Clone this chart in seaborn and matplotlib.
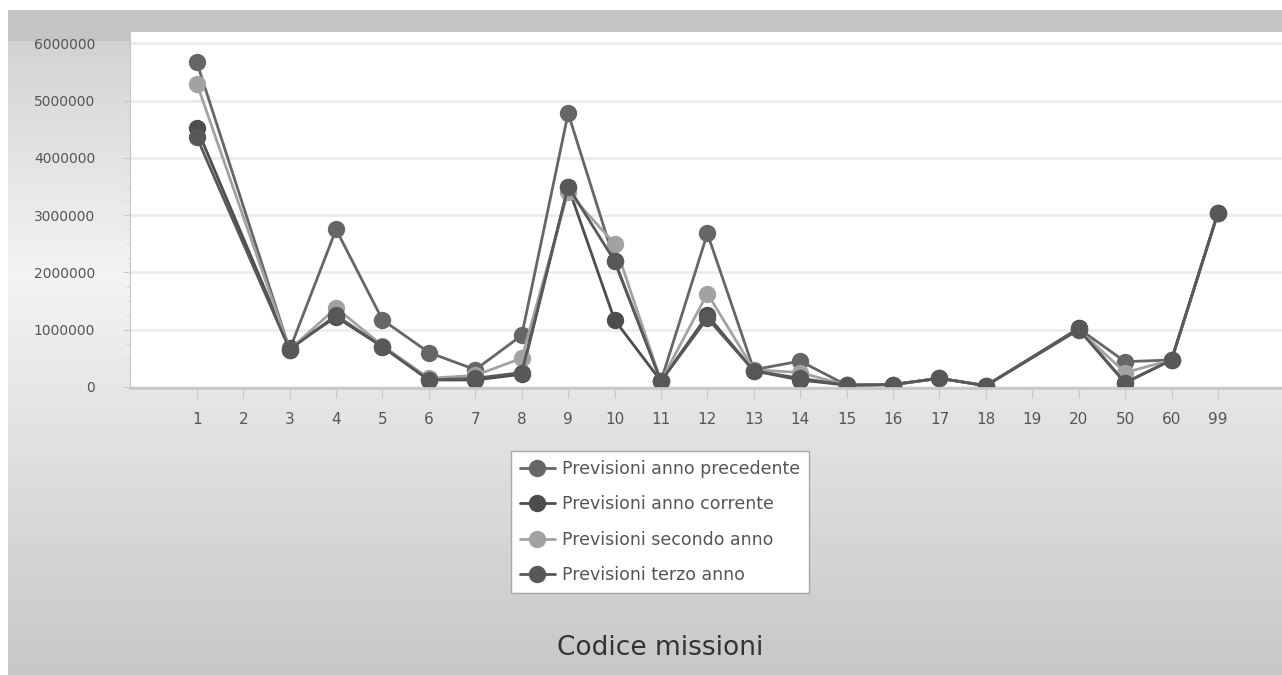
import numpy as np
import pandas as pd
import seaborn as sns
import matplotlib.pyplot as plt
from matplotlib.ticker import MultipleLocator, FuncFormatter

nan = np.nan

# Codici missione (asse x)
categorie = ['1', '2', '3', '4', '5', '6', '7', '8', '9', '10', '11', '12',
             '13', '14', '15', '16', '17', '18', '19', '20', '50', '60', '99']

# Valori
prev_precedente = [5670000, nan, 650000, 2750000, 1170000, 600000, 300000, 900000,
                   4780000, 2200000, 100000, 2680000, 300000, 450000, 30000, 40000,
                   150000, 20000, nan, 1020000, 440000, 470000, 3040000]
prev_corrente = [4520000, nan, 680000, 1220000, 700000, 120000, 120000, 220000,
                 3500000, 1170000, 100000, 1250000, 280000, 120000, 30000, 40000,
                 150000, 20000, nan, 1020000, 70000, 470000, 3040000]
prev_secondo = [5300000, nan, 650000, 1380000, 720000, 150000, 200000, 500000,
                3400000, 2500000, 100000, 1630000, 300000, 250000, 30000, 40000,
                150000, 20000, nan, 1000000, 250000, 470000, 3040000]
prev_terzo = [4360000, nan, 650000, 1250000, 700000, 120000, 150000, 250000,
              3500000, 2200000, 100000, 1200000, 280000, 150000, 30000, 40000,
              150000, 20000, nan, 1000000, 70000, 470000, 3040000]

serie = {
    'Previsioni anno precedente': prev_precedente,
    'Previsioni anno corrente': prev_corrente,
    'Previsioni secondo anno': prev_secondo,
    'Previsioni terzo anno': prev_terzo,
}
colori = ['#666666', '#4d4d4d', '#a2a2a2', '#585858']

sns.set_style('white')
plt.rcParams['font.family'] = ['DejaVu Sans']

fig = plt.figure(figsize=(12.82, 6.75), dpi=100)
fig.patch.set_facecolor('white')

# sfondo sfumato grigio
bg = fig.add_axes([8 / 1282, 0, 1 - 8 / 1282, 665 / 675])
grad = np.concatenate([np.linspace(0.81, 0.95, 40), np.linspace(0.95, 0.78, 60)])
bg.imshow(grad.reshape(-1, 1), aspect='auto', cmap='gray', vmin=0, vmax=1,
          extent=[0, 1, 0, 1])
bg.axhspan(0.955, 1.0, color='#c4c4c4')
bg.set_axis_off()

ax = fig.add_axes([130 / 1282, 1 - 388 / 675, 1 - 130 / 1282, (388 - 32) / 675])
ax.set_facecolor('white')

pos = np.arange(len(categorie))
for (nome, valori), col in zip(serie.items(), colori):
    df = pd.DataFrame({'pos': pos, 'valore': valori}).dropna()
    sns.lineplot(data=df, x='pos', y='valore', ax=ax, color=col, marker='o',
                 markersize=12.5, markeredgewidth=0, linewidth=2.0,
                 errorbar=None, label=nome)

ax.set_xlim(-1.44, 23.38)
ax.set_ylim(-20000, 6200000)
ax.set_xticks(pos)
ax.set_xticklabels(categorie)
ax.yaxis.set_major_locator(MultipleLocator(1000000))
ax.yaxis.set_minor_locator(MultipleLocator(250000))
ax.yaxis.set_major_formatter(FuncFormatter(lambda v, p: f'{int(v)}'))
ax.grid(axis='y', which='major', color='#ececec', linewidth=2)
ax.set_axisbelow(True)

for s in ['top', 'right']:
    ax.spines[s].set_visible(False)
ax.spines['left'].set_color('#c8c8c8')
ax.spines['bottom'].set_color('#c8c8c8')
ax.spines['bottom'].set_linewidth(2)
ax.tick_params(axis='x', bottom=True, length=7, color='#c8c8c8', labelsize=11,
               labelcolor='#555555', pad=10)
ax.tick_params(axis='y', which='major', left=True, length=5, color='#c8c8c8',
               labelsize=10, labelcolor='#555555', pad=20)
ax.tick_params(axis='y', which='minor', left=True, length=3, color='#d0d0d0')
ax.set_xlabel('')
ax.set_ylabel('')

ax.get_legend().remove()
handles, labels = ax.get_legend_handles_labels()
leg = fig.legend(handles, labels, loc='center', bbox_to_anchor=(660 / 1282, 1 - 522 / 675),
                 fontsize=12.5, labelspacing=1.0, handlelength=2.0, handletextpad=0.4,
                 frameon=True, fancybox=False, framealpha=1, borderpad=0.5,
                 borderaxespad=0)
leg.get_frame().set_edgecolor('#a8a8a8')
leg.get_frame().set_facecolor('white')
for t in leg.get_texts():
    t.set_color('#555555')

fig.text(660 / 1282, 1 - 648 / 675, 'Codice missioni', ha='center', va='center',
         fontsize=19, color='#333333')

fig.savefig('out.png', dpi=100)
